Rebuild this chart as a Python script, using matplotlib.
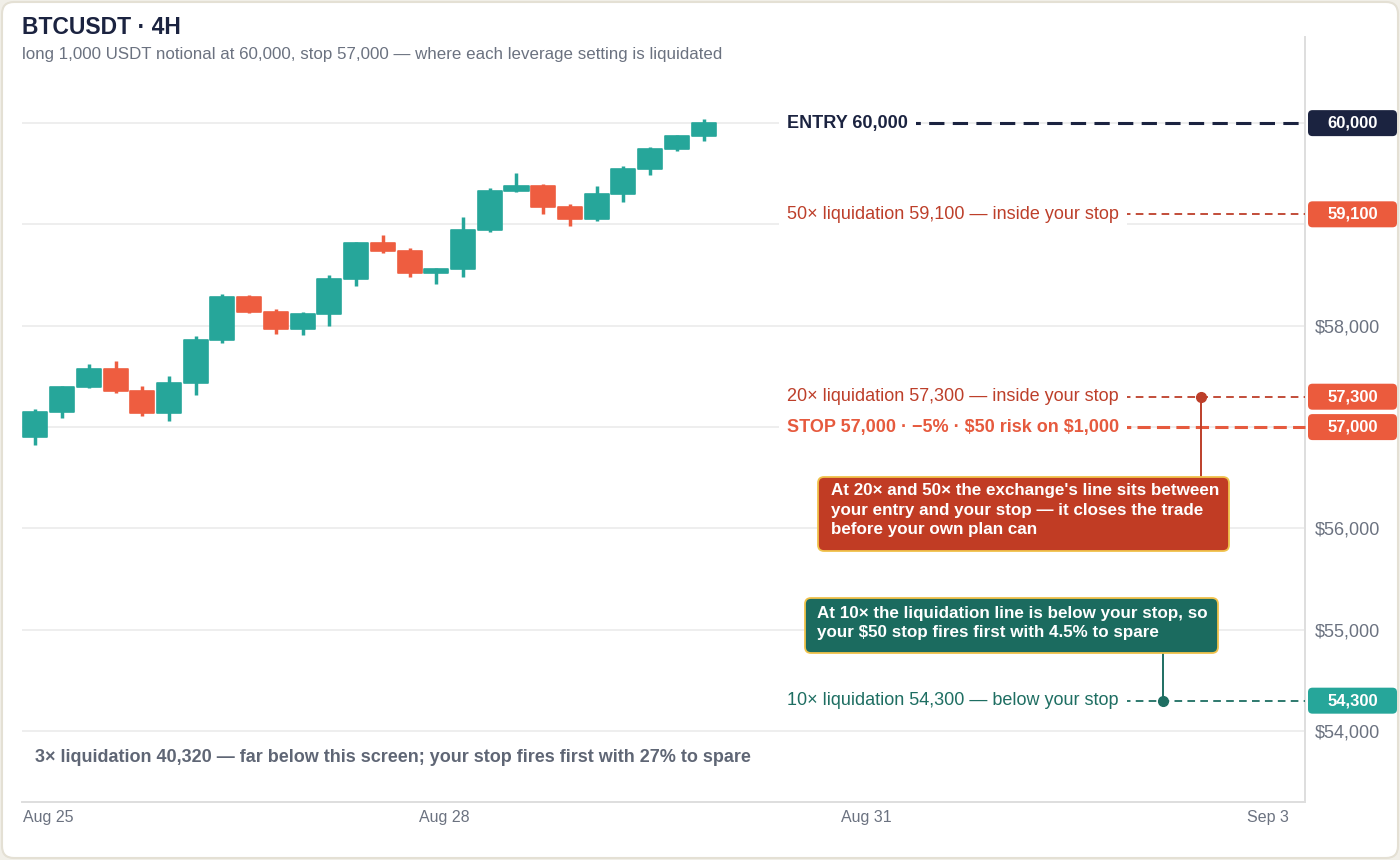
import numpy as np
import matplotlib
matplotlib.use('Agg')
import matplotlib.pyplot as plt
from matplotlib.patches import FancyBboxPatch, Rectangle
from matplotlib.transforms import ScaledTranslation, blended_transform_factory

plt.rcParams['font.family'] = ['Liberation Sans', 'DejaVu Sans']
plt.rcParams['lines.scale_dashes'] = False
plt.rcParams['text.parse_math'] = False

# 4H candles, BTCUSDT
opens = [56900, 57150, 57400, 57570, 57360, 57140, 57440, 57860, 58285, 58135, 57970, 58120, 58465,
         58815, 58740, 58525, 58560, 58945, 59330, 59375, 59170, 59050, 59300, 59545, 59740, 59870]
highs = [57180, 57410, 57620, 57650, 57410, 57500, 57900, 58310, 58300, 58165, 58140, 58505, 58830,
         58900, 58765, 58570, 59070, 59355, 59510, 59400, 59200, 59380, 59575, 59765, 59880, 60040]
lows = [56820, 57090, 57390, 57340, 57110, 57060, 57320, 57830, 58125, 57920, 57905, 57995, 58390,
        58720, 58480, 58415, 58480, 58930, 59325, 59100, 58980, 59030, 59225, 59490, 59720, 59825]
closes = [57150, 57400, 57570, 57355, 57140, 57440, 57860, 58285, 58135, 57970, 58120, 58465, 58815,
          58735, 58525, 58560, 58945, 59330, 59375, 59170, 59050, 59300, 59545, 59740, 59870, 60000]

date_labels = ['Aug 25', 'Aug 28', 'Aug 31', 'Sep 3']
price_ticks = [54000, 55000, 56000, 57000, 58000, 59000, 60000]

entry = 60000
stop = 57000
liq_50x = 59100
liq_20x = 57300
liq_10x = 54300

UP = '#26a69a'
DOWN = '#ee5d40'
BADGE_RED = '#eb5b3d'
NAVY = '#1b2340'
LIQ_RED = '#bd3f2a'
STOP_RED = '#e65a3e'
TEAL_DARK = '#1e6e62'
GRAY = '#6b7280'
GOLD = '#f0c24b'

W, H = 14, 8.6
fig = plt.figure(figsize=(W, H), dpi=100)
fig.patch.set_facecolor('#f1efe8')


def px(x, y):
    # image pixel -> figure inches
    return x / 100, H - y / 100


inch = fig.dpi_scale_trans
card = FancyBboxPatch(px(2, 858), 13.96, 8.56, boxstyle='round,pad=0,rounding_size=0.12',
                      fc='white', ec='#e4e0d4', lw=1.5, transform=inch, zorder=-10)
fig.patches.append(card)

ax = fig.add_axes([22 / 1400, 58 / 860, 1283 / 1400, 765 / 860])
ax.set_facecolor('none')
ax.set_xlim(-0.5, 47.5)
ax.set_ylim(53300, 60850)
ax.set_axisbelow(True)

for s in ['left', 'top']:
    ax.spines[s].set_visible(False)
for s in ['right', 'bottom']:
    ax.spines[s].set_color('#dedede')
    ax.spines[s].set_linewidth(1.4)

ax.yaxis.tick_right()
ax.set_yticks(price_ticks)
badge_levels = [entry, liq_50x, liq_20x, stop, liq_10x]
ax.set_yticklabels(['' if min(abs(p - b) for b in badge_levels) < 200 else f'${p:,.0f}'
                    for p in price_ticks])
ax.tick_params(axis='y', length=0, pad=7, labelsize=13, labelcolor=GRAY)
ax.grid(axis='y', color='#ebebeb', lw=1.2)

tick_pos = np.linspace(-0.47, 46.89, len(date_labels))
ax.set_xticks(tick_pos)
ax.set_xticklabels(date_labels)
ax.tick_params(axis='x', length=0, pad=6, labelsize=11.5, labelcolor=GRAY)
xt = ax.get_xticklabels()
xt[0].set_ha('left')
xt[-1].set_ha('right')

# candles
x = np.arange(len(opens))
for i, o, h, l, c in zip(x, opens, highs, lows, closes):
    col = UP if c >= o else DOWN
    ax.vlines(i, l, h, color=col, lw=2.5, zorder=2)
    ax.add_patch(Rectangle((i - 0.45, min(o, c)), 0.9, abs(c - o), fc=col, ec=col, lw=1.2,
                           joinstyle='round', zorder=3))

blend = blended_transform_factory(ax.transAxes, ax.transData)
lab_x = (787 - 22) / 1283

levels = [
    (entry, 'ENTRY 60,000', NAVY, 'bold', NAVY, 2.2, (11, 6), NAVY),
    (liq_50x, '50× liquidation 59,100 — inside your stop', LIQ_RED, 'normal', LIQ_RED, 1.3, (5.5, 3.8), BADGE_RED),
    (liq_20x, '20× liquidation 57,300 — inside your stop', LIQ_RED, 'normal', LIQ_RED, 1.3, (5.5, 3.8), BADGE_RED),
    (stop, 'STOP 57,000 · −5% · $50 risk on $1,000', STOP_RED, 'bold', STOP_RED, 2.2, (9.5, 4.5), BADGE_RED),
    (liq_10x, '10× liquidation 54,300 — below your stop', TEAL_DARK, 'normal', TEAL_DARK, 1.3, (5.5, 3.8), UP),
]
for price, text, tcol, weight, lcol, lw, dash, bcol in levels:
    ax.plot([lab_x, 1.0], [price, price], transform=blend, color=lcol, lw=lw, dashes=dash,
            zorder=4, clip_on=False)
    ax.text(lab_x, price, text, transform=blend, color=tcol, fontsize=13, fontweight=weight,
            va='center', ha='left', zorder=5,
            bbox=dict(boxstyle='square,pad=0.45', fc='white', ec='none'))
    tr = inch + ScaledTranslation(1.0, price, blend)
    badge = FancyBboxPatch((0.03, -0.13), 0.89, 0.26, boxstyle='round,pad=0,rounding_size=0.045',
                           fc=bcol, ec='none', transform=tr, clip_on=False, zorder=10)
    ax.add_patch(badge)
    ax.text(0.475, 0, f'{price:,.0f}', transform=tr, color='white', fontsize=12, fontweight='bold',
            ha='center', va='center', zorder=11, clip_on=False)

# callouts
dot20_x = (1201 - 22) / 1283
dot10_x = (1163 - 22) / 1283
ax.plot([dot20_x], [liq_20x], 'o', color=LIQ_RED, ms=7, transform=blend, zorder=6)
ax.plot([dot10_x], [liq_10x], 'o', color=TEAL_DARK, ms=7, transform=blend, zorder=6)
ax.annotate('', xy=(dot20_x, liq_20x), xycoords=blend, xytext=px(1201, 477), textcoords=inch,
            arrowprops=dict(arrowstyle='-', color=LIQ_RED, lw=1.4, shrinkA=0, shrinkB=0), zorder=5)
ax.annotate('', xy=(dot10_x, liq_10x), xycoords=blend, xytext=px(1163, 653), textcoords=inch,
            arrowprops=dict(arrowstyle='-', color=TEAL_DARK, lw=1.4, shrinkA=0, shrinkB=0), zorder=5)

red_box = FancyBboxPatch(px(818, 551), 4.11, 0.74, boxstyle='round,pad=0,rounding_size=0.06',
                         fc='#c13c24', ec=GOLD, lw=1.3, transform=inch, zorder=2)
green_box = FancyBboxPatch(px(805, 653), 4.13, 0.55, boxstyle='round,pad=0,rounding_size=0.06',
                           fc='#1b6b5f', ec=GOLD, lw=1.3, transform=inch, zorder=2)
fig.patches.extend([red_box, green_box])
fig.text(*px(831, 510), "At 20× and 50× the exchange's line sits between\n"
         "your entry and your stop — it closes the trade\nbefore your own plan can",
         transform=inch, color='white', fontsize=12.25, fontweight='bold', va='center', ha='left',
         linespacing=1.36, zorder=3)
fig.text(*px(817, 623), "At 10× the liquidation line is below your stop, so\n"
         "your $50 stop fires first with 4.5% to spare",
         transform=inch, color='white', fontsize=12.25, fontweight='bold', va='center', ha='left',
         linespacing=1.36, zorder=3)

# note for 3x
fig.text(*px(35, 758), '3× liquidation 40,320 — far below this screen; your stop fires first with 27% to spare',
         transform=inch, color='#5f6675', fontsize=13, fontweight='bold', va='center', ha='left')

# title
fig.text(*px(22, 27), 'BTCUSDT · 4H', transform=inch, color=NAVY, fontsize=16.5, fontweight='bold',
         va='center', ha='left')
fig.text(*px(22, 54), 'long 1,000 USDT notional at 60,000, stop 57,000 — where each leverage setting is liquidated',
         transform=inch, color=GRAY, fontsize=12.15, va='center', ha='left')

fig.savefig('out.png', dpi=100, facecolor=fig.get_facecolor())
